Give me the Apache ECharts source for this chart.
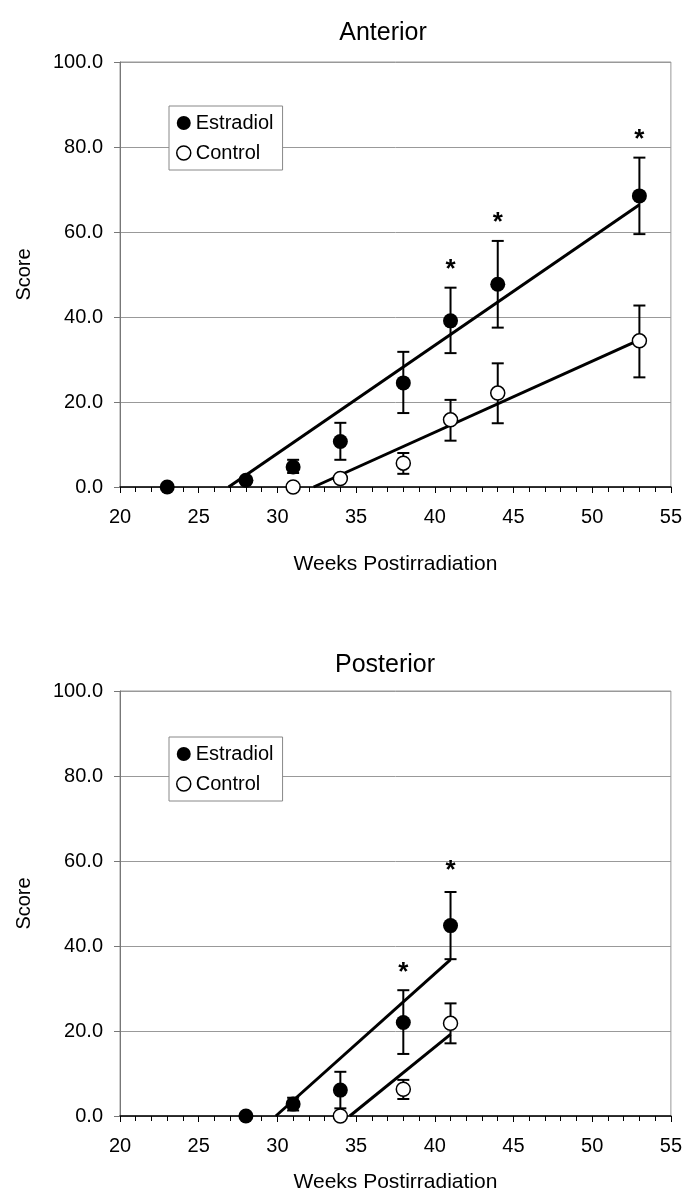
<!DOCTYPE html>
<html>
<head>
<meta charset="utf-8">
<script src="https://cdn.jsdelivr.net/npm/echarts@6/dist/echarts.min.js"></script>
<style>
  html, body { margin: 0; padding: 0; background: #fff; }
  #main { width: 685px; height: 1194px; }
</style>
</head>
<body>
<div id="main"></div>
<script>
// x ticks / y ticks
var weekTicks = [20, 25, 30, 35, 40, 45, 50, 55];
var scoreTicks = [0, 20, 40, 60, 80, 100];

// Anterior - Estradiol
var antEstWeeks = [23, 28, 31, 34, 38, 41, 44, 53];
var antEstMean = [0, 1.6, 4.7, 10.7, 24.5, 39.1, 47.7, 68.5];
var antEstLo = [null, null, 3.3, 6.4, 17.4, 31.5, 37.5, 59.5];
var antEstHi = [null, null, 6.4, 15.1, 31.8, 46.9, 57.9, 77.5];
// Anterior - Control
var antCtlWeeks = [31, 34, 38, 41, 44, 53];
var antCtlMean = [0, 2.0, 5.6, 15.8, 22.1, 34.4];
var antCtlLo = [null, null, 3.1, 10.9, 15.0, 25.8];
var antCtlHi = [null, null, 8.0, 20.5, 29.1, 42.7];
// Anterior - fitted lines (start, end)
var antEstFit = [[26.9, 0], [53, 66.4]];
var antCtlFit = [[32.3, 0], [53, 34.6]];
// Anterior - significance stars
var antStarWeeks = [41, 44, 53];
var antStarY = [52.5, 63.5, 83];

// Posterior - Estradiol
var postEstWeeks = [28, 31, 34, 38, 41];
var postEstMean = [0, 2.8, 6.1, 22.0, 44.8];
var postEstLo = [null, 1.3, 1.8, 14.6, 36.9];
var postEstHi = [null, 4.3, 10.4, 29.6, 52.7];
// Posterior - Control
var postCtlWeeks = [34, 38, 41];
var postCtlMean = [0, 6.3, 21.8];
var postCtlLo = [null, 4.0, 17.1];
var postCtlHi = [null, 8.5, 26.5];
// Posterior - fitted lines
var postEstFit = [[29.9, 0], [41, 36.8]];
var postCtlFit = [[34.6, 0], [41, 19.2]];
// Posterior - stars
var postStarWeeks = [38, 41];
var postStarY = [35.2, 59];

var FONT = "'Liberation Sans', Arial, sans-serif";

function pts(xs, ys) {
    return xs.map(function (x, i) { return [x, ys[i]]; });
}
function errs(xs, lo, hi) {
    var out = [];
    for (var i = 0; i < xs.length; i++) {
        if (lo[i] != null) out.push([xs[i], lo[i], hi[i]]);
    }
    return out;
}

function errorBarItem(params, api) {
    var x = api.value(0);
    var top = api.coord([x, api.value(2)]);
    var bot = api.coord([x, api.value(1)]);
    var hw = 6;
    var st = { stroke: '#000', lineWidth: 2 };
    return {
        type: 'group',
        children: [
            { type: 'line', shape: { x1: top[0], y1: top[1], x2: bot[0], y2: bot[1] }, style: st },
            { type: 'line', shape: { x1: top[0] - hw, y1: top[1], x2: top[0] + hw, y2: top[1] }, style: st },
            { type: 'line', shape: { x1: bot[0] - hw, y1: bot[1], x2: bot[0] + hw, y2: bot[1] }, style: st }
        ]
    };
}

// asterisk glyph sits high in the em box, push it down a bit
function starItem(params, api) {
    var p = api.coord([api.value(0), api.value(1)]);
    return {
        type: 'text', x: p[0], y: p[1] + 6,
        style: { text: '*', font: 'bold 26px ' + FONT, fill: '#000',
                 align: 'center', verticalAlign: 'middle' }
    };
}

function xAxisFor(gi, gap) {
    return {
        type: 'value', gridIndex: gi, min: 20, max: 55, interval: 5,
        name: 'Weeks Postirradiation', nameLocation: 'middle', nameGap: gap,
        nameTextStyle: { fontFamily: FONT, fontSize: 21, color: '#000' },
        axisLine: { onZero: false, lineStyle: { color: '#000', width: 1.5 } },
        axisTick: { show: true, length: 6, lineStyle: { color: '#000' } },
        minorTick: { show: true, splitNumber: 5, length: 5, lineStyle: { color: '#000' } },
        axisLabel: { fontFamily: FONT, fontSize: 20, color: '#000', margin: 20 },
        splitLine: { show: false }
    };
}
function yAxisFor(gi) {
    return {
        type: 'value', gridIndex: gi, min: 0, max: 100, interval: 20,
        name: 'Score', nameLocation: 'middle', nameGap: 86, nameRotate: 90,
        nameTextStyle: { fontFamily: FONT, fontSize: 20, color: '#000' },
        axisLine: { show: true, lineStyle: { color: '#777', width: 1 } },
        axisTick: { show: true, length: 6, lineStyle: { color: '#777' } },
        axisLabel: { fontFamily: FONT, fontSize: 20, color: '#000', margin: 17,
            formatter: function (v) { return v.toFixed(1); } },
        splitLine: { show: true, lineStyle: { color: '#999', width: 1 } }
    };
}

function legendFor(top) {
    return {
        orient: 'vertical', left: 169, top: top,
        backgroundColor: '#fff',
        borderColor: '#888', borderWidth: 1, borderRadius: 0,
        padding: [7, 9, 7, 7], itemGap: 10,
        itemWidth: 14, itemHeight: 14, icon: 'circle',
        textStyle: { fontFamily: FONT, fontSize: 20, color: '#000' },
        data: [
            { name: 'Estradiol', itemStyle: { color: '#000' } },
            { name: 'Control', itemStyle: { color: '#fff', borderColor: '#000', borderWidth: 1.5 } }
        ]
    };
}

function seriesFor(gi, eW, eM, eLo, eHi, cW, cM, cLo, cHi, eFit, cFit, sW, sY) {
    return [
        { type: 'line', name: 'fitE' + gi, xAxisIndex: gi, yAxisIndex: gi, data: eFit,
          symbol: 'none', lineStyle: { color: '#000', width: 3 }, z: 3, silent: true },
        { type: 'line', name: 'fitC' + gi, xAxisIndex: gi, yAxisIndex: gi, data: cFit,
          symbol: 'none', lineStyle: { color: '#000', width: 3 }, z: 3, silent: true },
        { type: 'custom', name: 'errE' + gi, xAxisIndex: gi, yAxisIndex: gi,
          renderItem: errorBarItem, data: errs(eW, eLo, eHi), encode: { x: 0, y: [1, 2] }, z: 4 },
        { type: 'custom', name: 'errC' + gi, xAxisIndex: gi, yAxisIndex: gi,
          renderItem: errorBarItem, data: errs(cW, cLo, cHi), encode: { x: 0, y: [1, 2] }, z: 4 },
        { type: 'scatter', name: 'Estradiol', xAxisIndex: gi, yAxisIndex: gi, data: pts(eW, eM),
          symbol: 'circle', symbolSize: 15, itemStyle: { color: '#000', opacity: 1 }, z: 6 },
        { type: 'scatter', name: 'Control', xAxisIndex: gi, yAxisIndex: gi, data: pts(cW, cM),
          symbol: 'circle', symbolSize: 14,
          itemStyle: { color: '#fff', borderColor: '#000', borderWidth: 1.5, opacity: 1 }, z: 6 },
        { type: 'custom', name: 'star' + gi, xAxisIndex: gi, yAxisIndex: gi, data: pts(sW, sY),
          renderItem: starItem, encode: { x: 0, y: 1 }, z: 6 }
    ];
}

var myChart = echarts.init(document.getElementById('main'));

var option = {
    backgroundColor: '#fff',
    animation: false,
    title: [
        { text: 'Anterior', left: 378, top: 16, textAlign: 'center',
          textStyle: { fontFamily: FONT, fontSize: 25, fontWeight: 'normal', color: '#000' } },
        { text: 'Posterior', left: 380, top: 648, textAlign: 'center',
          textStyle: { fontFamily: FONT, fontSize: 25, fontWeight: 'normal', color: '#000' } }
    ],
    grid: [
        { left: 120, right: 14, top: 62, height: 425, show: true, borderColor: '#999', borderWidth: 1 },
        { left: 120, right: 14, top: 691, height: 426, show: true, borderColor: '#999', borderWidth: 1 }
    ],
    legend: [legendFor(106), legendFor(737)],
    xAxis: [xAxisFor(0, 67), xAxisFor(1, 56)],
    yAxis: [yAxisFor(0), yAxisFor(1)],
    series: seriesFor(0, antEstWeeks, antEstMean, antEstLo, antEstHi,
                      antCtlWeeks, antCtlMean, antCtlLo, antCtlHi,
                      antEstFit, antCtlFit, antStarWeeks, antStarY)
        .concat(seriesFor(1, postEstWeeks, postEstMean, postEstLo, postEstHi,
                          postCtlWeeks, postCtlMean, postCtlLo, postCtlHi,
                          postEstFit, postCtlFit, postStarWeeks, postStarY))
};

myChart.setOption(option);
</script>
</body>
</html>
